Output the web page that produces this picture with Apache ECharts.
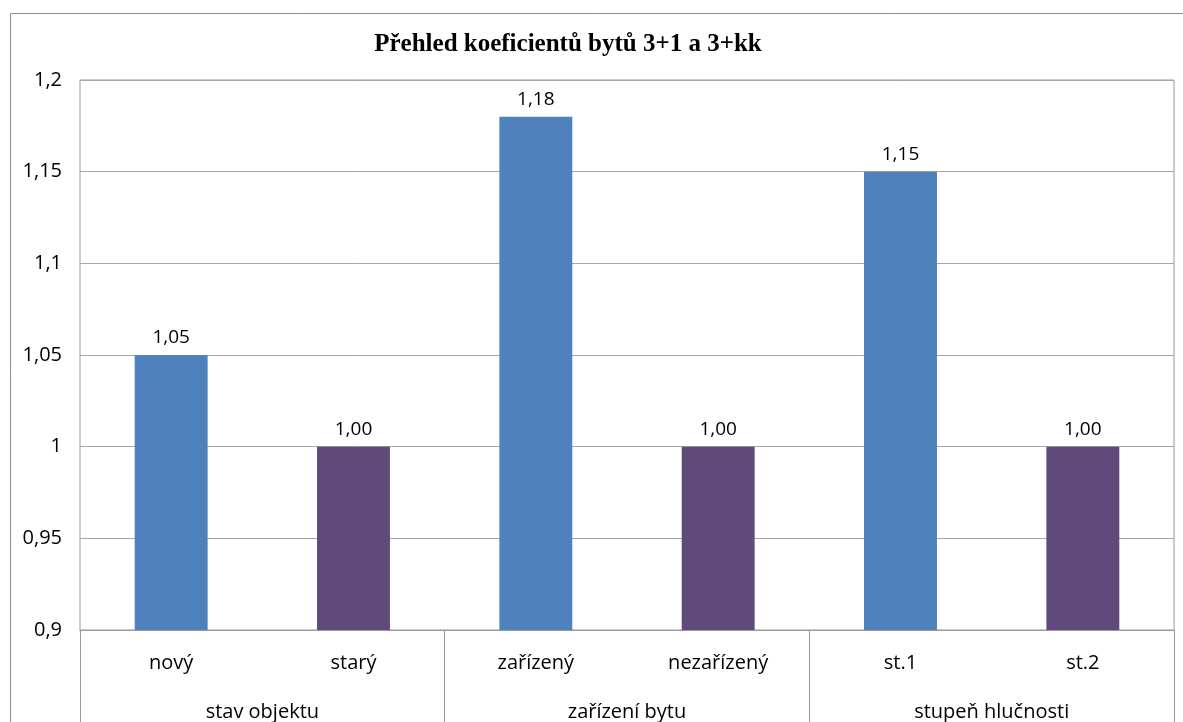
<!DOCTYPE html>
<html><head><meta charset="utf-8">
<script src="https://cdn.jsdelivr.net/npm/echarts@6/dist/echarts.min.js"></script>
<style>html,body{margin:0;padding:0;background:#fff}#c{width:1183px;height:722px}</style>
</head><body><div id="c"></div>
<script>
const titleText = 'Přehled koeficientů bytů 3+1 a 3+kk';
const categories = ['nový', 'starý', 'zařízený', 'nezařízený', 'st.1', 'st.2'];
const groups = ['stav objektu', 'zařízení bytu', 'stupeň hlučnosti'];
const values = [1.05, 1.00, 1.18, 1.00, 1.15, 1.00];
const colorA = '#4F81BD', colorB = '#604A7B';
const fmt = v => String(Math.round(v * 100) / 100).replace('.', ',');
const chart = echarts.init(document.getElementById('c'));
chart.setOption({
  animation: false,
  backgroundColor: '#fff',
  title: {
    text: titleText, left: 563, top: 27, textAlign: 'center',
    textStyle: { fontFamily: 'Liberation Serif', fontWeight: 'bold', fontSize: 25, color: '#000' }
  },
  graphic: [{
    type: 'rect', shape: { x: 10.5, y: 13.5, width: 1200, height: 800 },
    style: { fill: 'none', stroke: '#8c8c8c', lineWidth: 1 }, silent: true, z: -1
  }],
  grid: { left: 80, right: 9, top: 80, bottom: 89, show: true, borderColor: '#9a9a9a', borderWidth: 1 },
  xAxis: [{
    type: 'category', data: categories, position: 'bottom',
    axisLine: { show: true, lineStyle: { color: '#9a9a9a' } },
    axisTick: { show: false },
    axisLabel: { margin: 23, fontFamily: 'Open Sans', fontSize: 20, color: '#000' }
  }, {
    type: 'category', data: groups, position: 'bottom',
    axisLine: { show: false },
    axisTick: { show: true, length: 100, lineStyle: { color: '#9a9a9a' } },
    axisLabel: { margin: 72, fontFamily: 'Open Sans', fontSize: 20, color: '#000' }
  }],
  yAxis: {
    type: 'value', min: 0.9, max: 1.2, interval: 0.05,
    axisLine: { show: false }, axisTick: { show: false },
    splitLine: { lineStyle: { color: '#a6a6a6' } },
    axisLabel: { margin: 18, fontFamily: 'Open Sans', fontSize: 20, color: '#000', formatter: fmt }
  },
  series: [{
    type: 'bar', data: values, xAxisIndex: 0, barWidth: '40%',
    itemStyle: { color: p => (p.dataIndex % 2 === 0 ? colorA : colorB) },
    label: { show: true, position: 'top', distance: 8, fontFamily: 'Open Sans', fontSize: 19, color: '#000',
      formatter: p => p.value.toFixed(2).replace('.', ',') }
  }]
});
</script></body></html>
